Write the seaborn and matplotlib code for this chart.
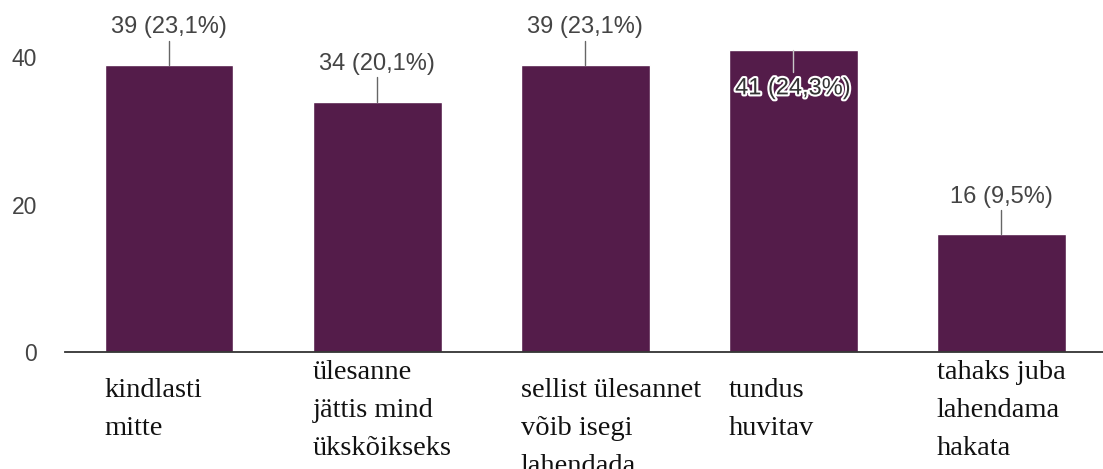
import matplotlib
matplotlib.use("Agg")
import matplotlib.pyplot as plt
import matplotlib.patheffects as pe
import seaborn as sns
import pandas as pd

# ==============================
# Data
# ==============================
categories = [
    "kindlasti\nmitte",
    "ülesanne\njättis mind\nükskõikseks",
    "sellist ülesannet\nvõib isegi\nlahendada",
    "tundus\nhuvitav",
    "tahaks juba\nlahendama\nhakata",
]
counts = [39, 34, 39, 41, 16]
shares = ["23,1%", "20,1%", "23,1%", "24,3%", "9,5%"]
yticks = [0, 20, 40]

bar_color = "#541c4a"
label_grey = "#444444"
bar_width = 0.62

sns.set_theme(style="white")
plt.rcParams["font.family"] = ["Liberation Sans", "DejaVu Sans"]

df = pd.DataFrame({"cat": categories, "n": counts})

fig = plt.figure(figsize=(11.03, 4.69), dpi=100)
ax = fig.add_axes([65 / 1103, 117 / 469, 1 - 65 / 1103, 352 / 469])

sns.barplot(data=df, x="cat", y="n", color=bar_color, saturation=1,
            width=bar_width, ax=ax)

ax.set_ylim(0, 47.8)
ax.set_xlim(-0.5, 4.49)
ax.set_xlabel("")
ax.set_ylabel("")
ax.set_yticks(yticks)
ax.set_yticklabels([str(t) for t in yticks], fontsize=16.5, color=label_grey)
ax.tick_params(axis="y", length=0, pad=20)
ax.set_xticks([])

for s in ["top", "right", "left"]:
    ax.spines[s].set_visible(False)
ax.spines["bottom"].set_color("#333333")
ax.spines["bottom"].set_linewidth(1.3)

# value labels with a small leader line
top_value = max(counts)
for i, (n, p) in enumerate(zip(counts, shares)):
    txt = f"{n} ({p})"
    if n == top_value:
        ax.plot([i, i], [n, n - 3.0], color="#c8c8c8", lw=1, zorder=3)
        ax.text(i, n - 5.2, txt, ha="center", va="center", fontsize=17,
                color="#333333", zorder=4,
                path_effects=[pe.withStroke(linewidth=3, foreground="white")])
    else:
        ax.plot([i, i], [n, n + 3.3], color="#666666", lw=1, zorder=3)
        ax.text(i, n + 5.1, txt, ha="center", va="center", fontsize=17,
                color=label_grey)

# category labels, left aligned under each bar
label_drop_px = [26, 8, 26, 26, 8]
for i, (cat, drop) in enumerate(zip(categories, label_drop_px)):
    ax.annotate(cat, xy=(i - bar_width / 2, 0), xycoords=("data", "axes fraction"),
                xytext=(0, -drop * 0.72), textcoords="offset points",
                ha="left", va="top", fontsize=20.5, linespacing=1.68,
                family=["Liberation Serif", "DejaVu Serif"], color="#111111",
                annotation_clip=False)

fig.savefig("out.png", dpi=100)
